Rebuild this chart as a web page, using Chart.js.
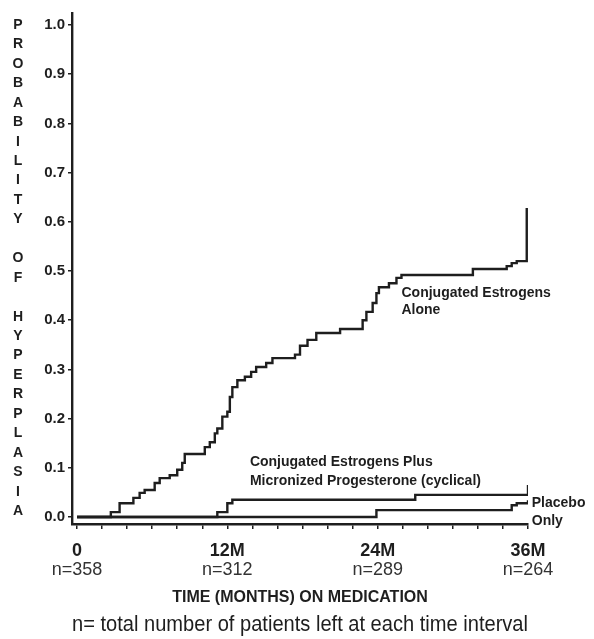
<!DOCTYPE html>
<html lang="en">
<head>
<meta charset="UTF-8">
<title>Probability of Hyperplasia</title>
<script src="https://cdn.jsdelivr.net/npm/chart.js"></script>
<style>
  body { margin: 0; background: #fff; }
  .wrap { width: 594px; height: 639px; position: relative; }
</style>
</head>
<body>
<div class="wrap"><canvas id="chart"></canvas></div>
<script>
// step points (month, probability)
const ceMonths = [0, 2.7, 3.4, 4.5, 5.0, 5.4, 6.2, 6.6, 7.4, 8.0, 8.4, 8.6, 10.2, 10.6, 11.0, 11.2, 11.6, 12.0, 12.2, 12.4, 12.8, 13.4, 13.9, 14.3, 15.1, 15.6, 17.4, 17.8, 18.4, 19.1, 21.0, 22.8, 23.1, 23.6, 23.9, 24.1, 24.9, 25.5, 25.9, 31.6, 34.3, 34.7, 35.1, 35.9];
const ceProb   = [0, 0.010, 0.028, 0.039, 0.049, 0.055, 0.069, 0.079, 0.085, 0.096, 0.110, 0.128, 0.142, 0.152, 0.170, 0.180, 0.204, 0.214, 0.244, 0.264, 0.278, 0.285, 0.295, 0.305, 0.313, 0.323, 0.330, 0.348, 0.360, 0.374, 0.382, 0.400, 0.417, 0.435, 0.455, 0.467, 0.475, 0.486, 0.492, 0.504, 0.510, 0.516, 0.520, 0.628];

const cempMonths = [0, 11.2, 12.0, 12.4, 27.0, 36.0];
const cempProb   = [0, 0.010, 0.028, 0.035, 0.045, 0.065];

const placeboMonths = [0, 23.9, 34.7, 35.1, 36.0];
const placeboProb   = [0, 0.014, 0.024, 0.028, 0.034];

const yTicks = [0, 0.1, 0.2, 0.3, 0.4, 0.5, 0.6, 0.7, 0.8, 0.9, 1.0];
const xMinor = [0, 2, 4, 6, 8, 10, 12, 14, 16, 18, 20, 22, 24, 26, 28, 30, 32, 34, 36];
const xMajor = [0, 12, 24, 36];
const xMajorLabels = ['0', '12M', '24M', '36M'];
const nLeft = ['n=358', 'n=312', 'n=289', 'n=264'];

const yTitle = 'PROBABILITY OF HYPERPLASIA';

// curve labels: month, probability, text
const curveLabels = [
  [25.9, 0.455, 'Conjugated Estrogens'],
  [25.9, 0.420, 'Alone'],
  [13.8, 0.111, 'Conjugated Estrogens Plus'],
  [13.8, 0.073, 'Micronized Progesterone (cyclical)'],
  [36.3, 0.028, 'Placebo'],
  [36.3, -0.009, 'Only']
];

const ink = '#1e1e1e';

function pts(xs, ys) {
  return xs.map((m, i) => ({ x: m, y: ys[i] }));
}

const textPlugin = {
  id: 'texts',
  afterDraw(chart) {
    const ctx = chart.ctx;
    const xs = chart.scales.x, ys = chart.scales.y;
    ctx.save();
    ctx.fillStyle = ink;
    ctx.textBaseline = 'middle';

    // stacked letters of the y title
    ctx.font = 'bold 14px "Liberation Sans", sans-serif';
    ctx.textAlign = 'center';
    const top = ys.getPixelForValue(1.0);
    const bot = ys.getPixelForValue(0.012);
    const letters = yTitle.split('');
    const step = (bot - top) / (letters.length - 1);
    letters.forEach((c, i) => {
      if (c !== ' ') ctx.fillText(c, 18, top + i * step);
    });

    // curve labels
    ctx.font = 'bold 14px "Liberation Sans", sans-serif';
    ctx.textAlign = 'left';
    curveLabels.forEach(l => {
      ctx.fillText(l[2], xs.getPixelForValue(l[0]), ys.getPixelForValue(l[1]));
    });
    ctx.restore();
  }
};

const lineStyle = {
  borderColor: ink,
  borderWidth: 2.4,
  pointRadius: 0,
  stepped: true,
  fill: false
};

new Chart(document.getElementById('chart'), {
  type: 'line',
  data: {
    datasets: [
      { label: 'Conjugated Estrogens Alone', data: pts(ceMonths, ceProb), ...lineStyle },
      { label: 'Conjugated Estrogens Plus Micronized Progesterone (cyclical)', data: pts(cempMonths, cempProb), ...lineStyle },
      { label: 'Placebo Only', data: pts(placeboMonths, placeboProb), ...lineStyle }
    ]
  },
  options: {
    responsive: true,
    maintainAspectRatio: false,
    animation: false,
    layout: { padding: { left: 0, right: 66, top: 13, bottom: 0 } },
    plugins: {
      legend: { display: false },
      tooltip: { enabled: false },
      title: {
        display: true,
        position: 'bottom',
        fullSize: false,
        text: 'n= total number of patients left at each time interval',
        color: ink,
        font: { family: '"Liberation Sans", sans-serif', size: 22, weight: 'normal' },
        padding: { top: 0, bottom: 1 }
      }
    },
    scales: {
      x: {
        type: 'linear',
        min: -0.4,
        max: 36,
        afterBuildTicks: axis => { axis.ticks = xMinor.map(v => ({ value: v })); },
        afterFit: scale => { scale.height = 37.6; },
        ticks: {
          autoSkip: false,
          maxRotation: 0,
          padding: 11,
          color: ink,
          font: { family: '"Liberation Sans", sans-serif', size: 18, weight: 'bold' },
          callback: v => {
            const i = xMajor.indexOf(v);
            return i >= 0 ? xMajorLabels[i] : '';
          }
        },
        grid: { drawOnChartArea: false, drawTicks: true, tickLength: 5, color: ink, lineWidth: 1.5 },
        border: { display: true, color: ink, width: 2.4 }
      },
      x2: {
        type: 'linear',
        position: 'bottom',
        min: -0.4,
        max: 36,
        afterBuildTicks: axis => { axis.ticks = xMajor.map(v => ({ value: v })); },
        afterFit: scale => { scale.height = 50; },
        ticks: {
          autoSkip: false,
          maxRotation: 0,
          padding: -2,
          color: '#333',
          font: { family: '"Liberation Sans", sans-serif', size: 18, weight: 'normal' },
          callback: v => nLeft[xMajor.indexOf(v)]
        },
        grid: { display: false, drawTicks: false },
        border: { display: false },
        title: {
          display: true,
          text: 'TIME (MONTHS) ON MEDICATION',
          color: ink,
          font: { family: '"Liberation Sans", sans-serif', size: 16, weight: 'bold' },
          padding: { top: 0, bottom: 4 }
        }
      },
      y: {
        type: 'linear',
        min: -0.0142,
        max: 1.0244,
        afterBuildTicks: axis => { axis.ticks = yTicks.map(v => ({ value: v })); },
        afterFit: scale => { scale.width = 72; },
        ticks: {
          padding: 3,
          color: ink,
          font: { family: '"Liberation Sans", sans-serif', size: 15, weight: 'bold' },
          callback: v => v.toFixed(1)
        },
        grid: { drawOnChartArea: false, drawTicks: true, tickLength: 4, color: ink, lineWidth: 1.5 },
        border: { display: true, color: ink, width: 2.4 }
      }
    }
  },
  plugins: [textPlugin]
});
</script>
</body>
</html>
